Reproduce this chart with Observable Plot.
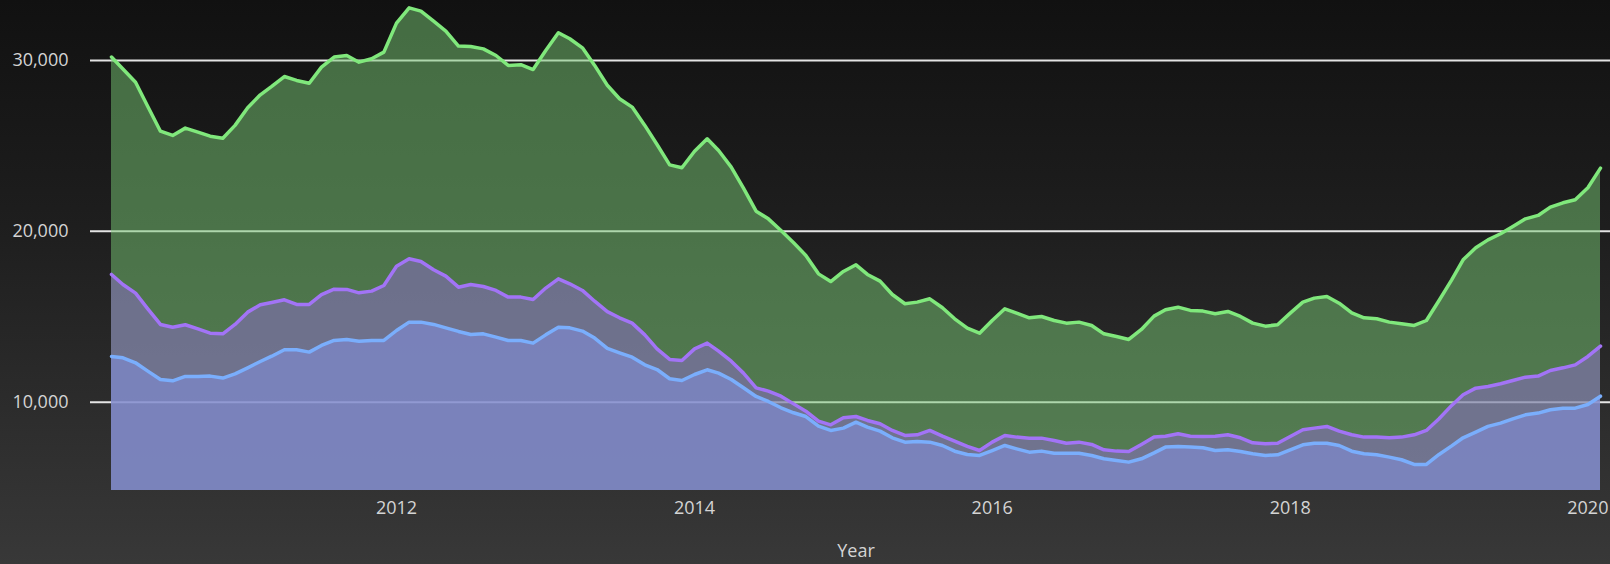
<!DOCTYPE html>
<html>
<head>
<meta charset="utf-8">
<script src="https://cdn.jsdelivr.net/npm/d3@7"></script>
<script src="https://cdn.jsdelivr.net/npm/@observablehq/plot@0.6"></script>
<style>
  html, body { margin: 0; padding: 0; }
  body {
    width: 1610px; height: 564px; overflow: hidden;
    background: linear-gradient(to bottom, #111111 0%, #1e1e1e 40%, #383838 100%);
    font-family: "Open Sans", "Noto Sans", sans-serif;
  }
  #chart svg { display: block; }
</style>
</head>
<body>
<div id="chart"></div>
<script>
// Monthly observations, Feb 2010 .. Feb 2020
const startMonth = "2010-02-01";
const endMonth = "2020-02-01";

const greenValues = [
  30200, 29500, 28730, 27310, 25860, 25610, 26040, 25810, 25570, 25450,
  26200, 27230, 27990, 28480, 29060, 28830, 28670, 29610, 30200, 30290,
  29900, 30100, 30490, 32185, 33080, 32890, 32300, 31720, 30840, 30820,
  30680, 30290, 29710, 29750, 29470, 30585, 31620, 31270, 30740, 29710,
  28550, 27760, 27270, 26200, 25080, 23890, 23720, 24690, 25415, 24730,
  23760, 22530, 21180, 20730, 20050, 19330, 18590, 17510, 17060, 17650,
  18040, 17475, 17085, 16300, 15760, 15855, 16050, 15525, 14880, 14335,
  14040, 14780, 15465, 15210, 14940, 15015, 14780, 14625, 14685, 14490,
  14000, 13845, 13670, 14255, 15035, 15405, 15560, 15370, 15330, 15175,
  15310, 15015, 14625, 14450, 14530, 15210, 15855, 16090, 16185, 15795,
  15230, 14940, 14880, 14685, 14590, 14490, 14780, 15950, 17160, 18330,
  19035, 19500, 19855, 20285, 20730, 20930, 21415, 21670, 21845, 22550,
  23700
];

const purpleValues = [
  17475, 16890, 16380, 15465, 14548, 14390, 14530, 14290, 14040, 14000,
  14550, 15270, 15700, 15835, 15990, 15720, 15720, 16300, 16615, 16600,
  16400, 16500, 16830, 17960, 18390, 18235, 17750, 17375, 16730, 16890,
  16770, 16540, 16150, 16150, 16010, 16680, 17220, 16930, 16540, 15910,
  15300, 14940, 14625, 13940, 13120, 12500, 12440, 13120, 13455, 12985,
  12400, 11700, 10840, 10645, 10350, 9900, 9475, 8890, 8675, 9085,
  9160, 8930, 8735, 8345, 8050, 8090, 8345, 8010, 7720, 7410,
  7170, 7660, 8050, 7955, 7895, 7895, 7760, 7600, 7660, 7525,
  7210, 7135, 7115, 7525, 7955, 8010, 8150, 8010, 7990, 8010,
  8090, 7915, 7620, 7565, 7600, 7990, 8385, 8480, 8580, 8305,
  8090, 7955, 7955, 7915, 7955, 8090, 8345, 9030, 9810, 10430,
  10820, 10920, 11075, 11270, 11465, 11525, 11855, 12010, 12185, 12675,
  13280
];

const blueValues = [
  12675, 12597, 12305, 11817, 11330, 11250, 11505, 11505, 11525, 11410,
  11660, 12010, 12380, 12690, 13065, 13065, 12930, 13320, 13610, 13670,
  13560, 13610, 13610, 14195, 14685, 14685, 14550, 14350, 14140, 13960,
  14000, 13805, 13610, 13610, 13455, 13940, 14390, 14350, 14160, 13750,
  13150, 12890, 12635, 12185, 11910, 11370, 11270, 11620, 11895, 11700,
  11330, 10840, 10335, 10040, 9670, 9380, 9160, 8600, 8345, 8480,
  8830, 8540, 8305, 7915, 7660, 7700, 7660, 7465, 7130, 6940,
  6880, 7170, 7465, 7270, 7075, 7135, 7015, 7015, 7015, 6880,
  6685, 6590, 6490, 6685, 7035, 7370, 7410, 7370, 7330, 7175,
  7215, 7115, 6980, 6880, 6920, 7215, 7505, 7600, 7600, 7465,
  7130, 6980, 6920, 6785, 6630, 6355, 6355, 6940, 7440, 7915,
  8245, 8580, 8775, 9025, 9260, 9360, 9555, 9650, 9650, 9865,
  10350
];

const yTicks = [10000, 20000, 30000];
const xTickYears = [2012, 2014, 2016, 2018, 2020];
const yDomain = [4830, 33510];

const months = d3.utcMonth.range(new Date(startMonth), d3.utcMonth.offset(new Date(endMonth), 1));
const rows = (vals) => months.map((d, i) => ({date: d, value: vals[i]}));
const green = rows(greenValues);
const purple = rows(purpleValues);
const blue = rows(blueValues);
const xTicks = xTickYears.map(y => new Date(Date.UTC(y, 0, 1)));

const chart = Plot.plot({
  width: 1610,
  height: 564,
  marginTop: 0,
  marginBottom: 74,
  marginLeft: 111,
  marginRight: 10,
  style: {background: "transparent", fontFamily: "Open Sans, Noto Sans, sans-serif", fontSize: "18px", color: "#d4d4d4"},
  x: {type: "utc", domain: [months[0], months[months.length - 1]]},
  y: {domain: yDomain},
  marks: [
    Plot.ruleY(yTicks, {stroke: "#e4e4e4", strokeWidth: 2, insetLeft: -21, insetRight: -10}),
    Plot.areaY(green, {x: "date", y1: yDomain[0], y2: "value", fill: "#78c874", fillOpacity: 0.5}),
    Plot.areaY(purple, {x: "date", y1: yDomain[0], y2: "value", fill: "#8e6ccc", fillOpacity: 0.5}),
    Plot.areaY(blue, {x: "date", y1: yDomain[0], y2: "value", fill: "#8392e7", fillOpacity: 0.5}),
    Plot.lineY(green, {x: "date", y: "value", stroke: "#80e87c", strokeWidth: 3.5}),
    Plot.lineY(purple, {x: "date", y: "value", stroke: "#a274f6", strokeWidth: 3.5}),
    Plot.lineY(blue, {x: "date", y: "value", stroke: "#7aaefc", strokeWidth: 3.5}),
    Plot.axisY({ticks: yTicks, tickFormat: d3.format(","), tickSize: 0, tickPadding: 43, label: null, fontSize: 18}),
    Plot.axisX({ticks: xTicks, tickFormat: d3.utcFormat("%Y"), tickSize: 0, tickPadding: 11, label: "Year", labelAnchor: "center", labelArrow: "none", labelOffset: 66, fontSize: 18})
  ]
});
document.getElementById("chart").appendChild(chart);
</script>
</body>
</html>
